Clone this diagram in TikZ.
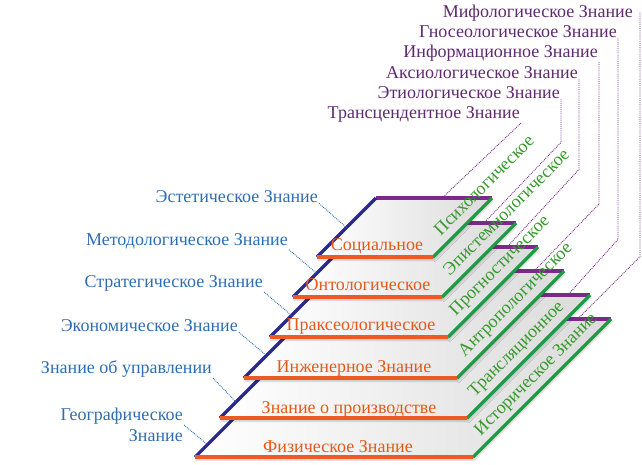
\documentclass[tikz,border=0pt]{standalone}
\usepackage{fontspec}
\setmainfont{Liberation Serif}
\usetikzlibrary{calc,shadows.blur}
\definecolor{rimnavy}{HTML}{2B2A8C}
\definecolor{rimorange}{HTML}{EE5A24}
\definecolor{rimpurple}{HTML}{7B2A8C}
\definecolor{rimgreen}{HTML}{1E9A45}
\definecolor{txtblue}{HTML}{2F6DB3}
\definecolor{txtpurple}{HTML}{5F2A70}
\definecolor{txtorange}{HTML}{E5591A}
\definecolor{txtgreen}{HTML}{35992B}

\begin{document}
\begin{tikzpicture}[x=1pt, y=-1pt,
		every node/.style={font=\fontsize{18}{21}\selectfont, inner sep=1pt},
		plate/.style={left color=white, middle color=white, right color=black!14,
			blur shadow={shadow xshift=1pt, shadow yshift=-3pt, shadow opacity=22}},
		rim/.style={line width=3.2pt},
		lvl/.style={text=txtorange, anchor=base},
		kind/.style={text=txtgreen, rotate=45, anchor=base west},
		lside/.style={text=txtblue, anchor=base east},
		rside/.style={text=txtpurple, anchor=base east},
		blink/.style={txtblue, densely dotted, line width=0.9pt},
		plink/.style={rimpurple, densely dotted, line width=0.9pt}]
		\useasboundingbox (0,0) rectangle (642,464);

		% plates, from the bottom one up
		\shade[plate] (195,457) coordinate (fl6) -- (473,457) coordinate (fr6) -- (611,319) coordinate (br6) -- (333,319) coordinate (bl6) -- cycle;
		\draw[rim] (bl6) edge[rimpurple] (br6) (fl6) edge[rimnavy] (bl6) (fr6) edge[rimgreen] (br6) (fl6) edge[rimorange] (fr6);
		\shade[plate] (220,418) coordinate (fl5) -- (467,418) coordinate (fr5) -- (590,295) coordinate (br5) -- (343,295) coordinate (bl5) -- cycle;
		\draw[rim] (bl5) edge[rimpurple] (br5) (fl5) edge[rimnavy] (bl5) (fr5) edge[rimgreen] (br5) (fl5) edge[rimorange] (fr5);
		\shade[plate] (244,378) coordinate (fl4) -- (457,378) coordinate (fr4) -- (564,271) coordinate (br4) -- (351,271) coordinate (bl4) -- cycle;
		\draw[rim] (bl4) edge[rimpurple] (br4) (fl4) edge[rimnavy] (bl4) (fr4) edge[rimgreen] (br4) (fl4) edge[rimorange] (fr4);
		\shade[plate] (270,337) coordinate (fl3) -- (448,337) coordinate (fr3) -- (538,247) coordinate (br3) -- (360,247) coordinate (bl3) -- cycle;
		\draw[rim] (bl3) edge[rimpurple] (br3) (fl3) edge[rimnavy] (bl3) (fr3) edge[rimgreen] (br3) (fl3) edge[rimorange] (fr3);
		\shade[plate] (293,297) coordinate (fl2) -- (442,297) coordinate (fr2) -- (516,223) coordinate (br2) -- (367,223) coordinate (bl2) -- cycle;
		\draw[rim] (bl2) edge[rimpurple] (br2) (fl2) edge[rimnavy] (bl2) (fr2) edge[rimgreen] (br2) (fl2) edge[rimorange] (fr2);
		\shade[plate] (317,257) coordinate (fl1) -- (433,257) coordinate (fr1) -- (492,198) coordinate (br1) -- (376,198) coordinate (bl1) -- cycle;
		\draw[rim] (bl1) edge[rimpurple] (br1) (fl1) edge[rimnavy] (bl1) (fr1) edge[rimgreen] (br1) (fl1) edge[rimorange] (fr1);

		% levels
		\node[lvl] (v1) at (377,250) {Социальное};
		\node[lvl] (v2) at (368,290) {Онтологическое};
		\node[lvl] (v3) at (361,330) {Праксеологическое};
		\node[lvl] (v4) at (354,372) {Инженерное Знание};
		\node[lvl] (v5) at (349,413) {Знание о производстве};
		\node[lvl] (v6) at (338,452) {Физическое Знание};

		\node[kind] (w1) at ($(fr1)+(7,-20)$) {Психологическое};
		\node[kind] (w2) at ($(fr2)+(7,-20)$) {Эпистемиологическое};
		\node[kind] (w3) at ($(fr3)+(7,-20)$) {Прогностическое};
		\node[kind] (w4) at ($(fr4)+(7,-20)$) {Антропологическое};
		\node[kind] (w5) at ($(fr5)+(7,-20)$) {Трансляционное};
		\node[kind] (w6) at ($(fr6)+(7,-20)$) {Историческое Знание};

		\node[lside] (l1) at (319,202) {Эстетическое Знание};
		\node[lside] (l2) at (289,245) {Методологическое Знание};
		\node[lside] (l3) at (264,287) {Стратегическое Знание};
		\node[lside] (l4) at (239,331) {Экономическое Знание};
		\node[lside] (l5) at (213,373) {Знание об управлении};
		\node[lside, align=right, anchor=east] (l6) at (184,425) {Географическое\\Знание};

		\node[rside] (k6) at (634,17) {Мифологическое Знание};
		\node[rside] (k5) at (618,37) {Гносеологическое Знание};
		\node[rside] (k4) at (599,57) {Информационное Знание};
		\node[rside] (k3) at (579,78) {Аксиологическое Знание};
		\node[rside] (k2) at (561,98) {Этиологическое Знание};
		\node[rside] (k1) at (521,118) {Трансцендентное Знание};

		% dotted leaders
		\draw[blink] (l1.south east) -- ($(fl1)!.5!(bl1)$);
		\draw[blink] (l2.south east) -- ($(fl2)!.32!(bl2)$);
		\draw[blink] (l3.south east) -- ($(fl3)!.24!(bl3)$);
		\draw[blink] (l4.south east) -- ($(fl4)!.21!(bl4)$);
		\draw[blink] (l5.south east) -- ($(fl5)!.13!(bl5)$);
		\draw[blink] (l6.east) -- ($(fl6)!.09!(bl6)$);

		\draw[plink] (k1.south east) -- ($(bl1)!.57!(br1)$);
		\draw[plink] (k2.south east) -- ++(0,43) -- ($(bl2)!.785!(br2)$);
		\draw[plink] (k3.south east) -- ++(0,90) -- ($(bl3)!.826!(br3)$);
		\draw[plink] (k4.south east) -- ++(0,142) -- ($(bl4)!.86!(br4)$);
		\draw[plink] (k5.south east) -- ++(0,201) -- ($(bl5)!.91!(br5)$);
		\draw[plink] (k6.east) ++(6,0) -- ++(0,244) -- ($(bl6)!.88!(br6)$);
	\end{tikzpicture}
\end{document}
